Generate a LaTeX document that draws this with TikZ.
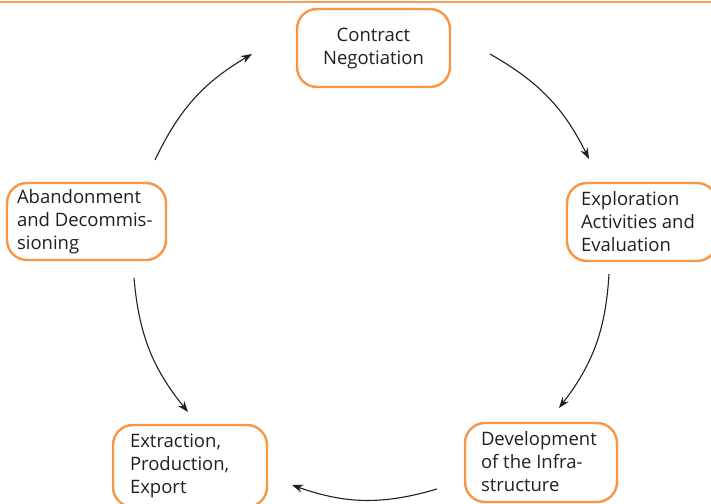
\documentclass[tikz,border=0pt]{standalone}
\usepackage{fontspec}
\setmainfont{Open Sans}
\usetikzlibrary{arrows.meta}
\definecolor{boxorange}{RGB}{247,150,70}
\definecolor{lineorange}{RGB}{247,155,85}
\definecolor{arrowgray}{RGB}{35,31,32}
\tikzset{
  box/.style={draw=boxorange, line width=2.4pt, rounded corners=20pt, fill=white, inner sep=0pt},
  txt/.style={align=left, inner sep=0pt, font=\fontsize{18.5}{23}\selectfont, text=arrowgray},
  ctxt/.style={align=center, inner sep=0pt, font=\fontsize{18.5}{23}\selectfont, text=arrowgray},
  arr/.style={draw=arrowgray, line width=1.1pt, -{Stealth[length=11pt,width=8pt]}}
}
\begin{document}
\begin{tikzpicture}[x=1pt,y=-1pt]
\useasboundingbox (0,0) rectangle (711,503);
\coordinate (tl) at (0,2);
\coordinate (tr) at (711,2);
\draw[lineorange, line width=1.6pt] (tl) -- (tr);

\node[box, minimum width=153, minimum height=78] (cn) at (373.5,48) {};
\node[ctxt] (cnt) at ([yshift=-1]cn.center) {Contract\\Negotiation};

\node[box, minimum width=150, minimum height=78] (ex) at (642,222) {};
\node[txt, anchor=west] (ext) at ([xshift=15]ex.west) {Exploration\\Activities and\\Evaluation};

\node[box, minimum width=159, minimum height=77] (ab) at (86.5,221.5) {};
\node[txt, anchor=west] (abt) at ([xshift=11]ab.west) {Abandonment\\and Decommis-\\sioning};

\node[box, minimum width=154, minimum height=82] (et) at (190,466) {};
\node[txt, anchor=west] (ett) at ([xshift=18,yshift=0]et.west) {Extraction,\\Production,\\Export};

\node[box, minimum width=152, minimum height=79] (dv) at (541,462.5) {};
\node[txt, anchor=west] (dvt) at ([xshift=17,yshift=1]dv.west) {Development\\of the Infra-\\structure};

\coordinate (a1s) at (155,160);
\coordinate (a1e) at (252,54);
\coordinate (a2s) at (490,54);
\coordinate (a2e) at (589,159);
\coordinate (a3s) at (609,274);
\coordinate (a3e) at (559,408);
\coordinate (a4s) at (437,489);
\coordinate (a4e) at (292,485);
\coordinate (a5s) at (134,278);
\coordinate (a5e) at (188,412);

\draw[arr] (a1s) to[bend left=17] (a1e);
\draw[arr] (a2s) to[bend left=17] (a2e);
\draw[arr] (a3s) to[bend left=17] (a3e);
\draw[arr] (a4s) to[bend left=18] (a4e);
\draw[arr] (a5s) to[bend right=17] (a5e);
\end{tikzpicture}
\end{document}
